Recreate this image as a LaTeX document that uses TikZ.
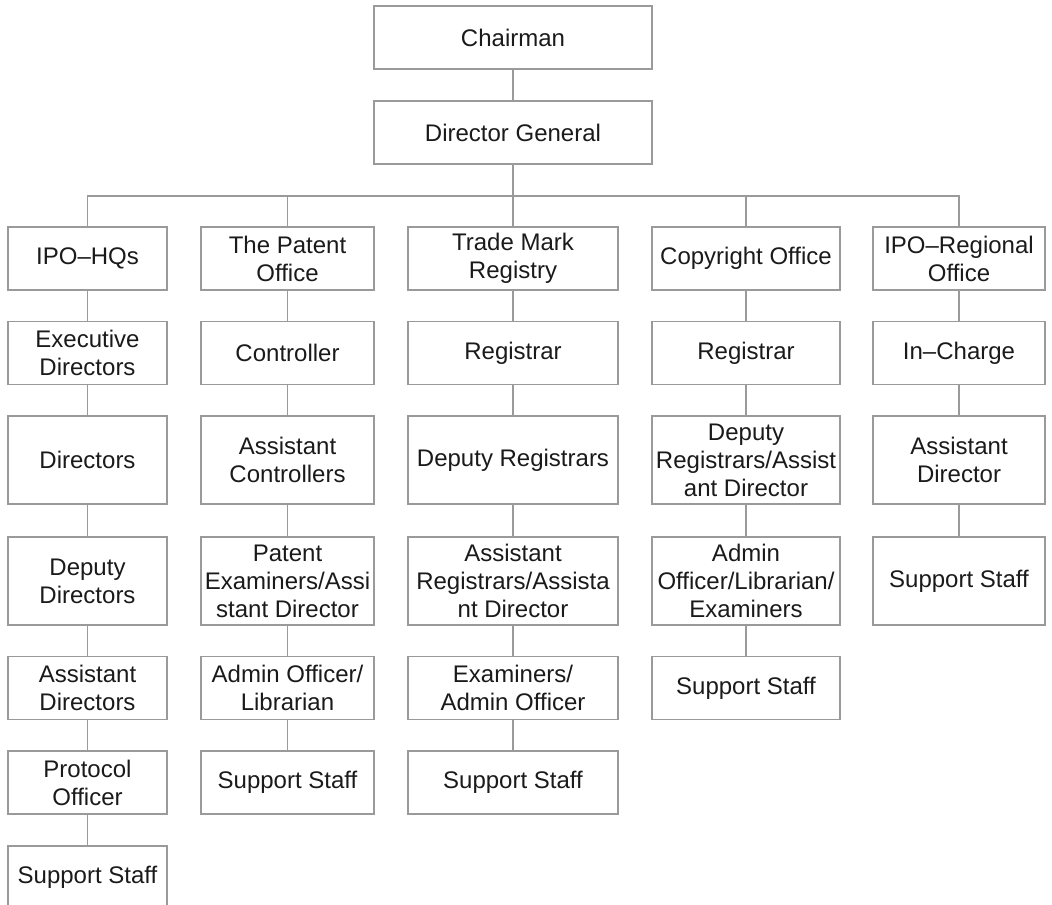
\documentclass[tikz,border=0pt]{standalone}
\usepackage{fontspec}
\setmainfont{Liberation Sans}
\definecolor{linegray}{HTML}{9A9A9A}
\definecolor{txt}{HTML}{1A1A1A}
\begin{document}
\begin{tikzpicture}[x=0.75pt,y=-0.75pt,
  box/.style={draw=linegray, line width=0.8pt, align=center, text=txt,
    font=\fontsize{18}{21}\selectfont, inner sep=1pt},
  w0/.style={minimum width=208.5pt},
  wa/.style={minimum width=119.25pt},
  wb/.style={minimum width=129.75pt},
  wc/.style={minimum width=157.5pt},
  wd/.style={minimum width=141pt},
  we/.style={minimum width=129pt},
  hs/.style={minimum height=47.25pt},
  ht/.style={minimum height=66pt},
  link/.style={draw=linegray, line width=0.8pt}]
\useasboundingbox (0,0) rectangle (1052,905);
% top
\node[box,w0,hs] (chair) at (513,37.5) {Chairman};
\node[box,w0,hs] (dg) at (513,132.5) {Director General};
\coordinate (bus) at (513,196);
% column 1
\node[box,wa,hs] (a1) at (87.5,258.5) {IPO–HQs};
\node[box,wa,hs] (a2) at (87.5,353) {Executive\\Directors};
\node[box,wa,ht] (a3) at (87.5,460) {Directors};
\node[box,wa,ht] (a4) at (87.5,581) {Deputy\\Directors};
\node[box,wa,hs] (a5) at (87.5,688) {Assistant\\Directors};
\node[box,wa,hs] (a6) at (87.5,782.5) {Protocol\\Officer};
\node[box,wa,hs] (a7) at (87.5,877.5) {Support Staff};
% column 2
\node[box,wb,hs] (b1) at (287.5,258.5) {The Patent\\Office};
\node[box,wb,hs] (b2) at (287.5,353) {Controller};
\node[box,wb,ht] (b3) at (287.5,460) {Assistant\\Controllers};
\node[box,wb,ht] (b4) at (287.5,581) {Patent\\Examiners/Assi\\stant Director};
\node[box,wb,hs] (b5) at (287.5,688) {Admin Officer/\\Librarian};
\node[box,wb,hs] (b6) at (287.5,782.5) {Support Staff};
% column 3
\node[box,wc,hs] (c1) at (513,258.5) {Trade Mark\\Registry};
\node[box,wc,hs] (c2) at (513,353) {Registrar};
\node[box,wc,ht] (c3) at (513,460) {Deputy Registrars};
\node[box,wc,ht] (c4) at (513,581) {Assistant\\Registrars/Assista\\nt Director};
\node[box,wc,hs] (c5) at (513,688) {Examiners/\\Admin Officer};
\node[box,wc,hs] (c6) at (513,782.5) {Support Staff};
% column 4
\node[box,wd,hs] (d1) at (746,258.5) {Copyright Office};
\node[box,wd,hs] (d2) at (746,353) {Registrar};
\node[box,wd,ht] (d3) at (746,460) {Deputy\\Registrars/Assist\\ant Director};
\node[box,wd,ht] (d4) at (746,581) {Admin\\Officer/Librarian/\\Examiners};
\node[box,wd,hs] (d5) at (746,688) {Support Staff};
% column 5
\node[box,we,hs] (e1) at (959,258.5) {IPO–Regional\\Office};
\node[box,we,hs] (e2) at (959,353) {In–Charge};
\node[box,we,ht] (e3) at (959,460) {Assistant\\Director};
\node[box,we,ht] (e4) at (959,581) {Support Staff};
% connectors
\draw[link] (chair) -- (dg);
\draw[link] (dg.south) -- (bus);
\foreach \h in {a1,b1,c1,d1,e1} \draw[link] (bus) -| (\h.north);
\foreach \u/\v in {a1/a2,a2/a3,a3/a4,a4/a5,a5/a6,a6/a7,
  b1/b2,b2/b3,b3/b4,b4/b5,b5/b6,
  c1/c2,c2/c3,c3/c4,c4/c5,c5/c6,
  d1/d2,d2/d3,d3/d4,d4/d5,
  e1/e2,e2/e3,e3/e4} \draw[link] (\u) -- (\v);
\end{tikzpicture}
\end{document}
